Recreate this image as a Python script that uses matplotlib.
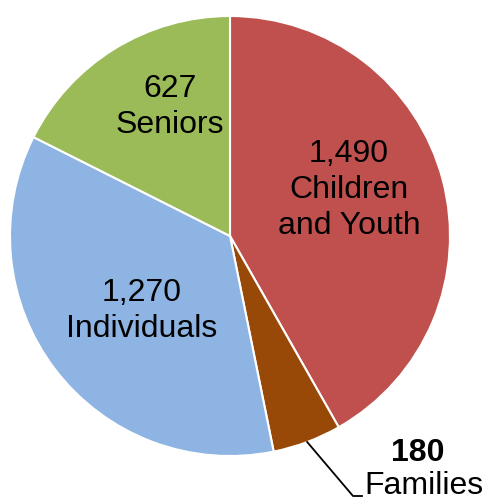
import numpy as np
import matplotlib
matplotlib.use("Agg")
import matplotlib.pyplot as plt

plt.rcParams['font.family'] = ['Liberation Sans', 'DejaVu Sans']

categories = ["Children\nand Youth", "Families", "Individuals", "Seniors"]
values = [1490, 180, 1270, 627]
value_labels = ["1,490", "180", "1,270", "627"]
colors = ["#C0504D", "#984807", "#8EB4E3", "#9BBB59"]

W, H = 485, 500
fig = plt.figure(figsize=(W / 100, H / 100), dpi=100)
ax = fig.add_axes([0, 0, 1, 1])

cx, cy, r = 230, 264, 220
wedges, _ = ax.pie(values, colors=colors, startangle=90, counterclock=False,
                   center=(cx, cy), radius=r, frame=True,
                   wedgeprops=dict(edgecolor="white", linewidth=1.5))
ax.set_xlim(0, W)
ax.set_ylim(0, H)
ax.axis("off")

fs = 23
# in-slice labels
inside = {0: (349, 310), 2: (142, 189), 3: (170, 393)}
for i, (x, y) in inside.items():
    ax.text(x, y, value_labels[i] + "\n" + categories[i], ha="center", va="center",
            fontsize=fs, linespacing=1.28, color="black")

# Families label with leader line
w = wedges[1]
mid = np.deg2rad((w.theta1 + w.theta2) / 2)
sx, sy = cx + r * np.cos(mid), cy + r * np.sin(mid)
ax.plot([sx, 353, 362], [sy, 4, 4], color="black", lw=1.3, clip_on=False)
ax.text(418, 47, value_labels[1], ha="center", va="center", fontsize=fs,
        fontweight="bold")
ax.text(424, 14, categories[1], ha="center", va="center", fontsize=fs)

fig.savefig("out.png", dpi=100)
